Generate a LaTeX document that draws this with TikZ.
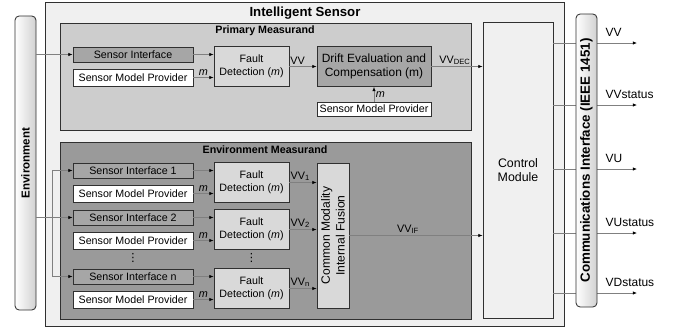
\documentclass[tikz,border=0pt]{standalone}
\usepackage{fontspec}
\setmainfont{Liberation Sans}
\newfontfamily\symfont{DejaVu Sans}
\usepackage{tikz}
\usetikzlibrary{arrows.meta, positioning, calc}
\usepackage{xcolor}
\definecolor{paper}{HTML}{F0F0F0}
\definecolor{light}{HTML}{CDCDCD}
\definecolor{mid}{HTML}{A6A6A6}
\definecolor{deep}{HTML}{9A9A9A}
\definecolor{pale}{HTML}{D9D9D9}
\definecolor{edge}{HTML}{303030}
\definecolor{wire}{HTML}{808080}
\tikzset{
  frame/.style={draw=edge, line width=0.6pt},
  boxB/.style={frame, inner sep=0pt, align=center,
               font=\fontsize{7.6}{9}\selectfont},
  ifbox/.style={boxB, fill=mid, minimum width=3cm, minimum height=0.375cm},
  modelbox/.style={boxB, fill=white, minimum width=3cm, minimum height=0.425cm},
  faultbox/.style={boxB, fill=pale, minimum width=1.875cm, minimum height=1cm},
  driftbox/.style={boxB, fill=mid, minimum width=2.85cm, minimum height=1cm,
                   font=\fontsize{8.5}{10}\selectfont},
  sidebar/.style={frame, rounded corners=3pt, left color=white,
                  right color=black!18, minimum width=0.525cm, inner sep=0pt},
  conn/.style={draw=wire, line width=0.5pt,
               -{Latex[length=3pt, width=2.4pt, color=black]}},
  wireline/.style={draw=wire, line width=0.5pt},
  titleT/.style={font=\fontsize{9.4}{11}\selectfont\bfseries},
  subT/.style={font=\fontsize{7.6}{9}\selectfont\bfseries},
  mlbl/.style={font=\fontsize{7.7}{9}\selectfont\itshape, inner sep=1pt},
  vvlbl/.style={font=\fontsize{7.7}{9}\selectfont, inner sep=1pt},
  outlbl/.style={font=\fontsize{8.5}{10}\selectfont, inner sep=0pt},
  dotsT/.style={font=\symfont\fontsize{8}{9}\selectfont, inner sep=0pt},
}

\begin{document}
\begin{tikzpicture}[x=0.025cm, y=-0.025cm, >=Latex]
  \useasboundingbox (0,0) rectangle (680,331);

  %% Outer sensor frame
  \draw[frame, fill=paper] (45,2) rectangle (564,326);
  \node[titleT] (tsens) at (305,13) {Intelligent Sensor};

  %% Environment bar
  \node[sidebar, minimum height=7.35cm] (env) at (25.5,163) {};
  \node[rotate=90, font=\fontsize{8.2}{10}\selectfont\bfseries] (tenv) at (env) {Environment};

  %% --- PRIMARY MEASURAND ---
  \draw[frame, fill=light] (60,23) rectangle (471,130);
  \node[subT] (tprim) at (265,31) {Primary Measurand};

  \node[ifbox]    (si0)   at (133,54.5)  {Sensor Interface};
  \node[modelbox] (smp0)  at (133,77.5)  {Sensor Model Provider};
  \node[faultbox] (fd0)   at (251.5,66.5) {Fault\\Detection (\textit{m})};
  \node[driftbox] (drift) at (374,66.5)  {Drift Evaluation and\\Compensation (m)};
  \node[modelbox, minimum width=2.85cm, minimum height=0.35cm] (smpd) at (374,109)
    {Sensor Model Provider};

  %% --- ENVIRONMENT MEASURAND ---
  \draw[frame, fill=deep] (60,142) rectangle (471,319);
  \node[subT] (tenvm) at (265,150) {Environment Measurand};

  \foreach \t/\k in {163/1, 210/2, 269/n}{
    \node[ifbox]    (si\k)  at (133,\t+7.5)    {Sensor Interface \k};
    \node[modelbox] (smp\k) at (133,\t+30.5)   {Sensor Model Provider};
    \node[faultbox] (fd\k)  at (251.5,\t+19.5) {Fault\\Detection (\textit{m})};
  }
  \node[dotsT] (dots1) at (133,258) {⋮};
  \node[dotsT] (dots2) at (251.5,258) {⋮};

  %% Fusion block
  \node[boxB, fill=pale, minimum width=0.8cm, minimum height=3.625cm] (fus) at (333,235.5) {};
  \node[rotate=90, align=center, font=\fontsize{8.6}{10.5}\selectfont] (tfus) at (fus)
    {Common Modality\\Internal Fusion};

  %% Control module
  \node[boxB, fill=paper, minimum width=1.75cm, minimum height=7.4cm,
        font=\fontsize{8.8}{10.5}\selectfont] (ctrl) at (518,170) {Control\\Module};

  %% Inputs from the environment
  \coordinate (trunk) at (52,218);
  \draw[conn] (env.east |- si0.west) -- (si0.west);
  \draw[conn] (env.east |- si2.west) -- (si2.west);
  \draw[wireline] (trunk |- si1.west) -- (trunk |- sin.west);
  \draw[conn] (trunk |- si1.west) -- (si1.west);
  \draw[conn] (trunk |- sin.west) -- (sin.west);

  %% Fault detection inputs
  \foreach \k in {0,1,2,n}{
    \draw[conn] (si\k.east) -- (si\k.east -| fd\k.west);
    \draw[conn] (smp\k.east) -- node[mlbl, above] {m} (smp\k.east -| fd\k.west);
  }
  \foreach \k in {1,2,n}{
    \draw[conn] (fd\k.east) -- node[vvlbl, above, pos=0.4] {VV\textsubscript{\k}}
      (fd\k.east -| fus.west);
  }

  %% Primary chain
  \draw[conn] (fd0.east) -- node[vvlbl, above, pos=0.3] {VV} (drift.west);
  \draw[conn] (smpd.north) -- node[mlbl, right] {m} (drift.south);
  \draw[conn] (drift.east) -- node[vvlbl, above, pos=0.46] {VV\textsubscript{DEC}}
    (drift.east -| ctrl.west);
  \draw[conn] (fus.east) -- node[vvlbl, above, pos=0.44] {VV\textsubscript{IF}}
    (fus.east -| ctrl.west);

  %% Outputs
  \foreach \y [count=\i] in {43, 105, 169, 233, 293}{
    \coordinate (out\i) at (637,\y);
    \draw[conn] (ctrl.east |- out\i) -- (out\i);
  }

  %% Communications bar
  \node[sidebar, minimum height=7.325cm] (comm) at (586.5,160.5) {};
  \node[rotate=90, font=\fontsize{9.5}{11}\selectfont\bfseries] (tcomm) at (comm)
    {Communications Interface (IEEE 1451)};

  \foreach \txt [count=\i] in {VV, VVstatus, VU, VUstatus, VDstatus}{
    \node[outlbl, anchor=base west] (lbl\i) at ($(comm.east |- out\i)+(8,-7)$) {\txt};
  }

\end{tikzpicture}
\end{document}
